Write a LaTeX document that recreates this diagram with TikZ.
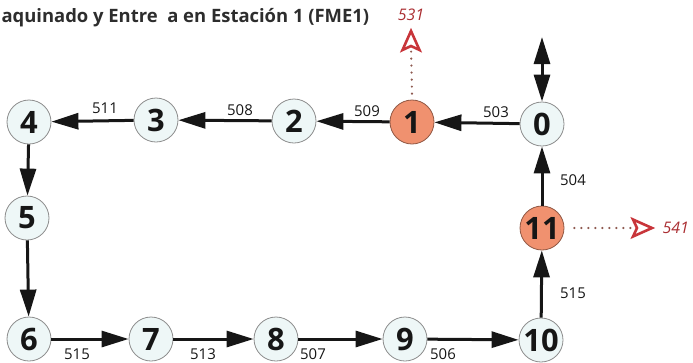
\documentclass[tikz,border=0pt]{standalone}
\usepackage{fontspec}
\setmainfont{Open Sans}
\usetikzlibrary{arrows.meta,calc}
\definecolor{ink}{HTML}{161616}
\definecolor{pale}{HTML}{EEF7F7}
\definecolor{salmon}{HTML}{F0916F}
\definecolor{rim}{HTML}{8C8C8C}
\definecolor{brick}{HTML}{C8353A}
\definecolor{rust}{HTML}{8E5A50}

\begin{document}
\begin{tikzpicture}[x=1bp,y=-1bp,
  stn/.style={circle,draw=rim,line width=.8bp,fill=pale,minimum size=44bp,inner sep=0pt,text=ink,font=\fontsize{31}{31}\selectfont\bfseries},
  hot/.style={stn,fill=salmon,draw=salmon!60!black},
  flow/.style={draw=ink,line width=3bp,-{Triangle[length=27bp,width=16bp]}},
  tag/.style={text=ink,font=\fontsize{15}{15}\selectfont},
  trail/.style={draw=rust,line width=2.4bp,line cap=round,dash pattern=on 0bp off 7bp},
  dart/.style={draw=brick,line width=2.6bp,line join=miter,fill=white},
  code/.style={text=brick!85!black,font=\fontsize{16}{16}\selectfont\itshape}]
\useasboundingbox (0,0) rectangle (693,362);

\node[anchor=west,text=ink!90,font=\fontsize{18.5}{18.5}\selectfont\bfseries] (title) at (-2,18) {aquinado y Entre\ \ a en Estación 1 (FME1)};

% stations
\node[stn] (n0) at (542,124) {0};
\node[hot] (n1) at (412,122) {1};
\node[stn] (n2) at (294,121) {2};
\node[stn] (n3) at (156,120) {3};
\node[stn] (n4) at (29,122) {4};
\node[stn] (n5) at (27,218) {5};
\node[stn] (n6) at (29,339) {6};
\node[stn] (n7) at (151,339) {7};
\node[stn] (n8) at (276,339) {8};
\node[stn] (n9) at (405,339) {9};
\node[stn] (n10) at (541,340) {10};
\node[hot] (n11) at (542,228) {11};

% route
\draw[flow] (n0) -- (n1);
\draw[flow] (n1) -- (n2);
\draw[flow] (n2) -- (n3);
\draw[flow] (n3) -- (n4);
\draw[flow] (n4) -- (n5);
\draw[flow] (n5) -- (n6);
\draw[flow] (n6) -- (n7);
\draw[flow] (n7) -- (n8);
\draw[flow] (n8) -- (n9);
\draw[flow] (n9) -- (n10);
\draw[flow] (n10) -- (n11);
\draw[flow] (n11) -- (n0);

\coordinate (top0) at (542,37);
\draw[flow,{Triangle[length=27bp,width=16bp]}-{Triangle[length=27bp,width=16bp]}] (top0) -- (n0);

% segment codes
\node[tag] (l511) at (105,108) {511};
\node[tag] (l508) at (240,110) {508};
\node[tag] (l509) at (367,111) {509};
\node[tag] (l503) at (496,112) {503};
\node[tag] (l504) at (573,180) {504};
\node[tag] (l515a) at (573,293) {515};
\node[tag] (l515b) at (77,354) {515};
\node[tag] (l513) at (203,354) {513};
\node[tag] (l507) at (313,354) {507};
\node[tag] (l506) at (443,354) {506};

% exits
\coordinate (b531) at (411,46);
\draw[trail] ($(n1.north)+(0,-6)$) -- (b531);
\draw[dart] (411,31) -- (419.5,50) -- (b531) -- (402.5,50) -- cycle;
\node[code] (c531) at (411,15) {531};

\coordinate (b541) at (637,228);
\draw[trail] ($(n11.east)+(10,0)$) -- (b541);
\draw[dart] (652,228) -- (633,236.5) -- (b541) -- (633,219.5) -- cycle;
\node[code,anchor=west] (c541) at (659,228) {541};
\end{tikzpicture}
\end{document}
